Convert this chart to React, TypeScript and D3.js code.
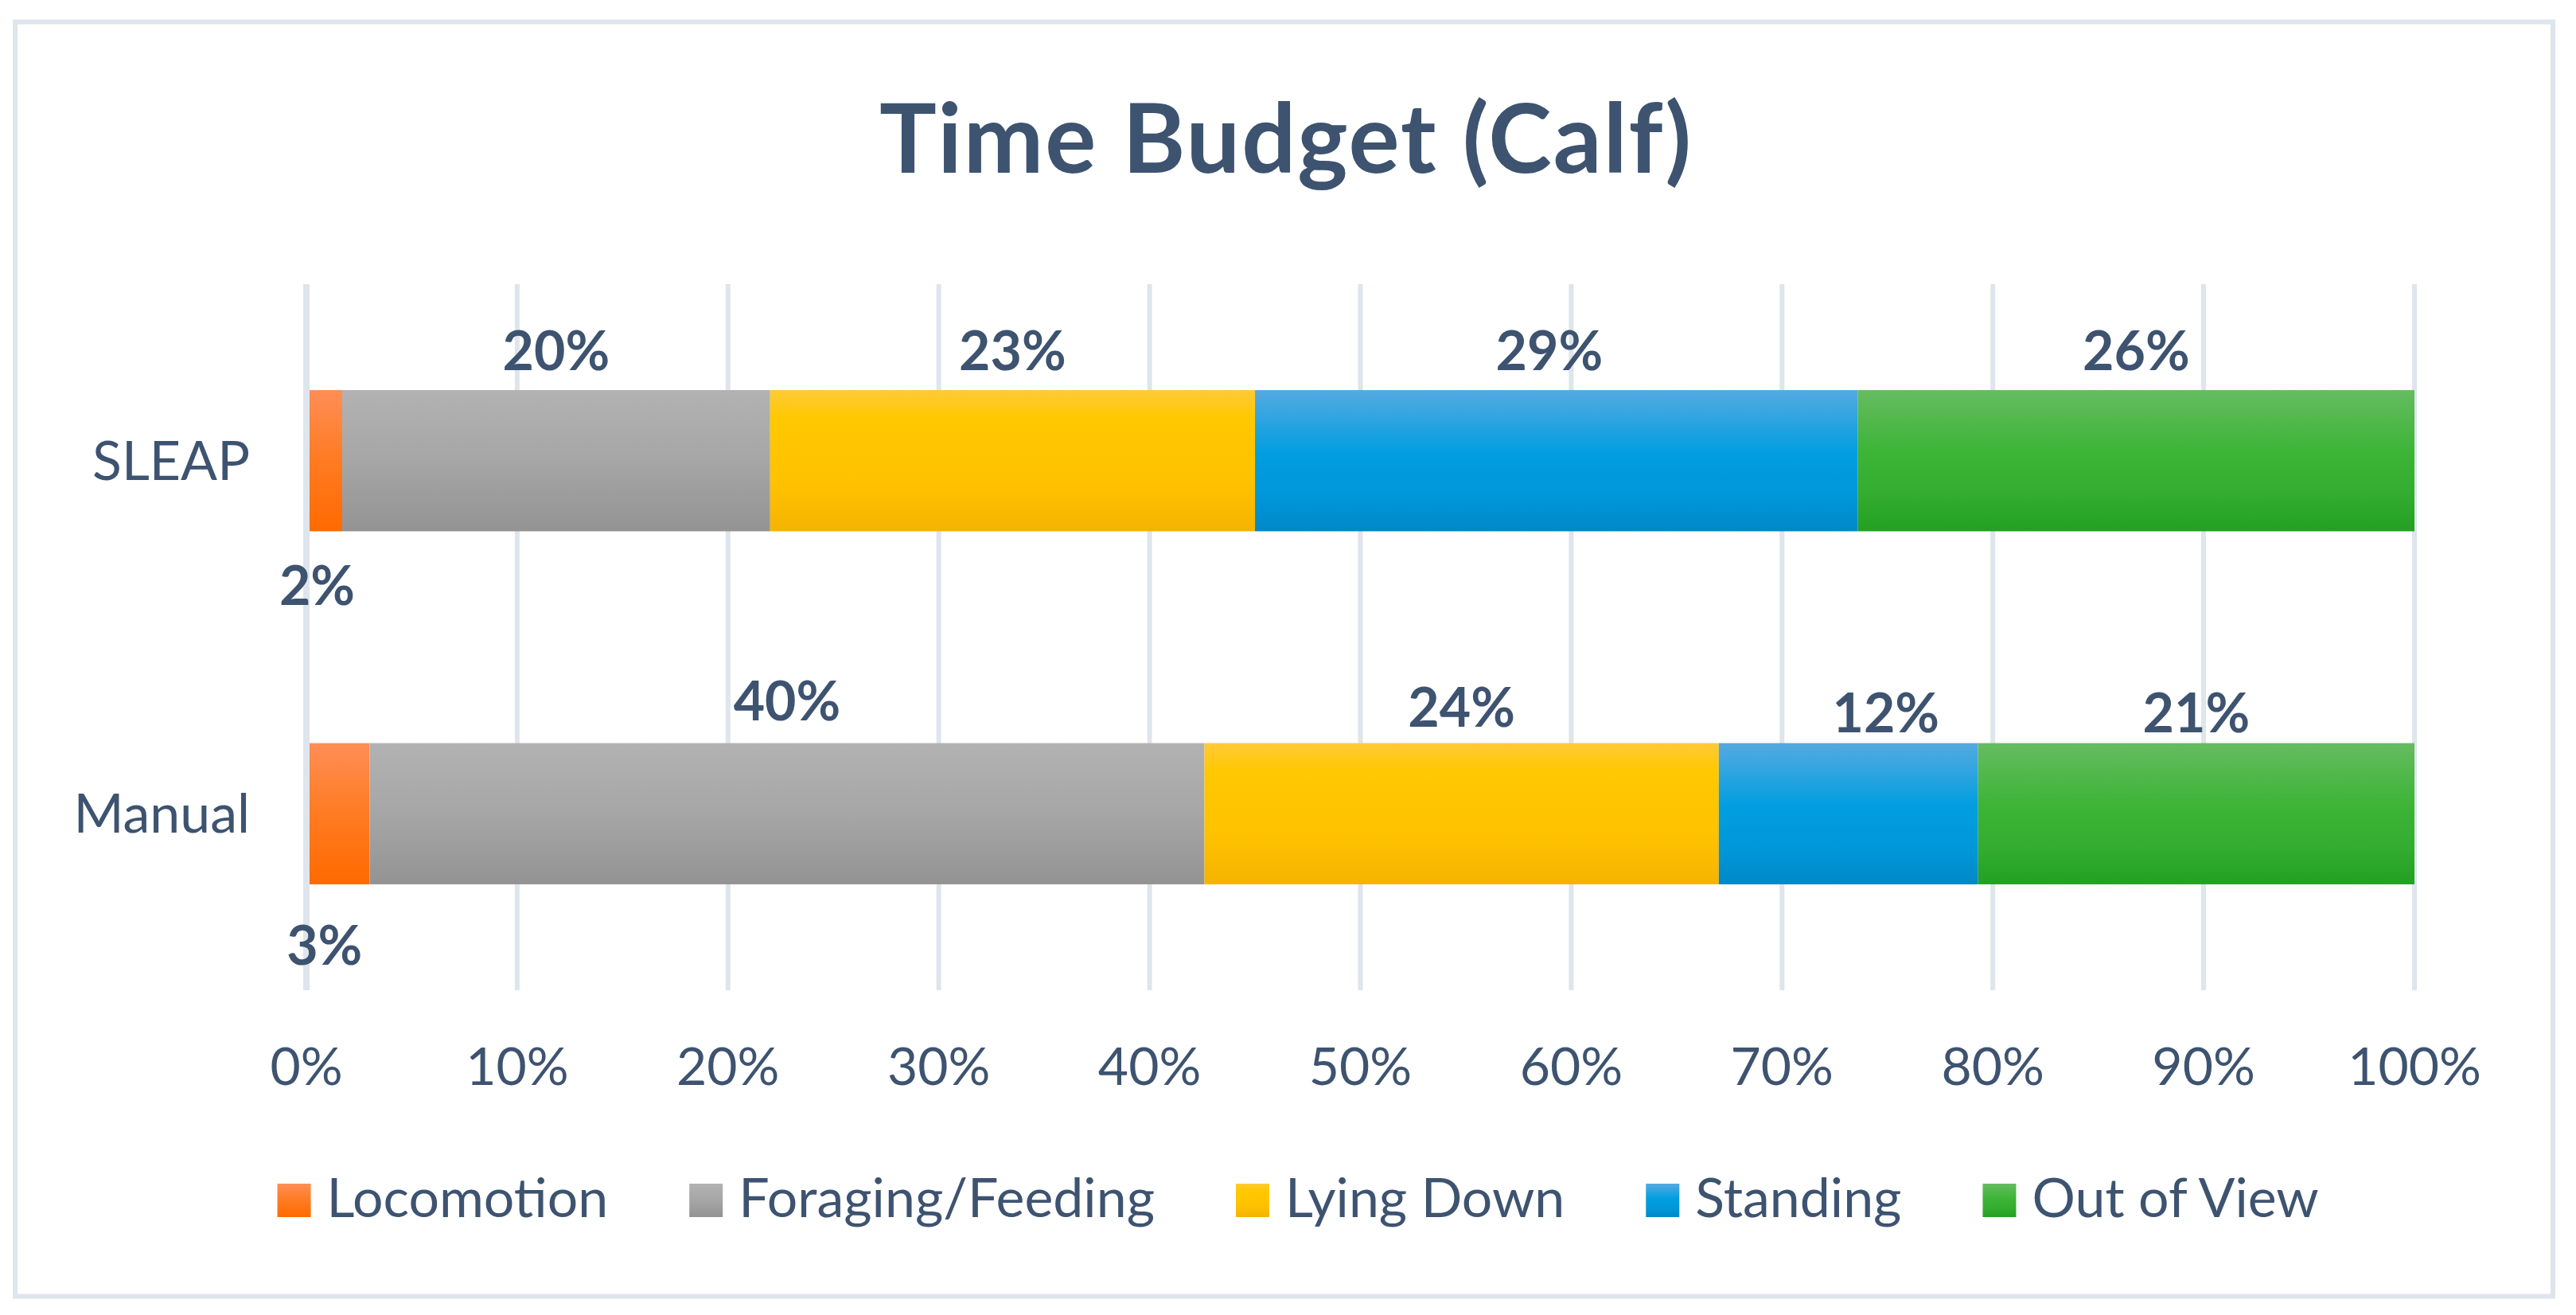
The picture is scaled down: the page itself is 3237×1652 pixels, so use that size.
import React, { useEffect } from "react";
import * as d3 from "d3";

// ---------- data ----------
const categories = ["SLEAP", "Manual"];
const seriesNames = ["Locomotion", "Foraging/Feeding", "Lying Down", "Standing", "Out of View"];
const locomotion = [0.017, 0.03];
const foraging = [0.203, 0.396];
const lyingDown = [0.23, 0.244];
const standing = [0.286, 0.123];
const outOfView = [0.264, 0.207];
const tickValues = [0, 0.1, 0.2, 0.3, 0.4, 0.5, 0.6, 0.7, 0.8, 0.9, 1.0];
const title = "Time Budget (Calf)";

// ---------- styles ----------
const W = 3237;
const H = 1652;
const TEXT = "#3d5370";
const GRID = "#dee5ec";
const FONT = "Lato, 'Noto Sans', sans-serif";

const gradients: Record<string, [number, string][]> = {
  Locomotion: [[0, "#ff8e56"], [0.5, "#ff7b22"], [1, "#ff6a00"]],
  "Foraging/Feeding": [[0, "#b2b2b2"], [0.5, "#a6a6a6"], [1, "#939393"]],
  "Lying Down": [[0, "#ffca38"], [0.2, "#ffc800"], [0.65, "#ffc200"], [1, "#f5b300"]],
  Standing: [[0, "#55aae0"], [0.45, "#009ee0"], [0.75, "#0097d8"], [1, "#0088c8"]],
  "Out of View": [[0, "#65bc60"], [0.45, "#3cb436"], [0.75, "#33ac2f"], [1, "#22a022"]],
};

// label nudges (layout only): [dx, dy] per category/series
const labelNudge: Record<string, [number, number]> = {
  "SLEAP|Locomotion": [-9, 93],
  "Manual|Locomotion": [-17, 101],
  "SLEAP|Standing": [-9, 0],
  "Manual|Foraging/Feeding": [0, -4],
  "Manual|Lying Down": [0, 4],
  "Manual|Standing": [47, 11],
  "Manual|Out of View": [0, 11],
};

function measure(text: string, font: string): number {
  const c = document.createElement("canvas").getContext("2d")!;
  c.font = font;
  return c.measureText(text).width;
}

export default function App() {
  useEffect(() => {
    document.body.style.margin = "0";
    document.body.style.overflow = "hidden";
  }, []);

  const values: Record<string, number[]> = {
    Locomotion: locomotion,
    "Foraging/Feeding": foraging,
    "Lying Down": lyingDown,
    Standing: standing,
    "Out of View": outOfView,
  };
  const rows = categories.map((c, i) => {
    const r: any = { category: c };
    seriesNames.forEach((s) => (r[s] = values[s][i]));
    return r;
  });
  const stacked = d3.stack().keys(seriesNames)(rows);

  const x = d3.scaleLinear().domain([0, 1]).range([385, 3034]);
  const y = d3.scaleBand().domain(categories).range([357, 1244]).paddingInner(0.6).paddingOuter(0.3);
  const fmt = d3.format(".0%");

  // legend layout
  const legendFontSize = 68;
  const legendFont = `${legendFontSize}px Lato`;
  const sw = 42;
  const swGap = 20;
  const itemGap = 102;
  const widths = seriesNames.map((s) => measure(s, legendFont));
  const total = widths.reduce((a, w) => a + sw + swGap + w, 0) + itemGap * (seriesNames.length - 1);
  let lx = 1633 - total / 2;
  const legendItems = seriesNames.map((s, i) => {
    const item = { name: s, x: lx };
    lx += sw + swGap + widths[i] + itemGap;
    return item;
  });

  const bw = y.bandwidth();

  return (
    <svg width={W} height={H} style={{ display: "block", fontFamily: FONT }}>
      <defs>
        {seriesNames.map((s, i) => (
          <linearGradient key={s} id={`g${i}`} x1="0" y1="0" x2="0" y2="1">
            {gradients[s].map(([o, c], j) => (
              <stop key={j} offset={o} stopColor={c} />
            ))}
          </linearGradient>
        ))}
      </defs>
      <rect x={0} y={0} width={W} height={H} fill="#ffffff" />
      <rect x={19} y={27.5} width={3189} height={1601} fill="#ffffff" stroke={GRID} strokeWidth={6} />

      <text x={1616} y={217} textAnchor="middle" fontSize={120} fontWeight={700} letterSpacing={2} fill={TEXT}>
        {title}
      </text>

      {/* gridlines */}
      {tickValues.map((t) => (
        <line key={t} x1={x(t)} x2={x(t)} y1={357} y2={1244} stroke={GRID} strokeWidth={6} />
      ))}

      {/* bars */}
      {stacked.map((layer, i) => (
        <g key={layer.key} fill={`url(#g${i})`}>
          {layer.map((d: any, j: number) => (
            <rect
              key={j}
              x={x(d[0])}
              width={x(d[1]) - x(d[0])}
              y={y(categories[j])!}
              height={bw}
            />
          ))}
        </g>
      ))}
      <line x1={x(0)} x2={x(0)} y1={357} y2={1244} stroke={GRID} strokeWidth={8} />

      {/* data labels */}
      {stacked.map((layer, i) =>
        layer.map((d: any, j: number) => {
          const cat = categories[j];
          const key = `${cat}|${layer.key}`;
          const [dx, dy] = labelNudge[key] || [0, 0];
          const cx = (x(d[0]) + x(d[1])) / 2 + dx;
          const top = y(cat)!;
          const by = (i === 0 ? top + bw : top - 25) + dy;
          return (
            <text key={key} x={cx} y={by} textAnchor="middle" fontSize={68} fontWeight={700} fill={TEXT}>
              {fmt(d[1] - d[0])}
            </text>
          );
        })
      )}

      {/* category labels */}
      {categories.map((c) => (
        <text key={c} x={314} y={y(c)! + bw / 2 + 24} textAnchor="end" fontSize={68} fill={TEXT}>
          {c}
        </text>
      ))}

      {/* tick labels */}
      {tickValues.map((t) => (
        <text key={t} x={x(t)} y={1363} textAnchor="middle" fontSize={66} fill={TEXT}>
          {fmt(t)}
        </text>
      ))}

      {/* legend */}
      {legendItems.map((it, i) => (
        <g key={it.name}>
          <rect x={it.x} y={1487} width={sw} height={sw} fill={`url(#g${i})`} />
          <text x={it.x + sw + swGap} y={1529} fontSize={legendFontSize} fill={TEXT}>
            {it.name}
          </text>
        </g>
      ))}
    </svg>
  );
}
